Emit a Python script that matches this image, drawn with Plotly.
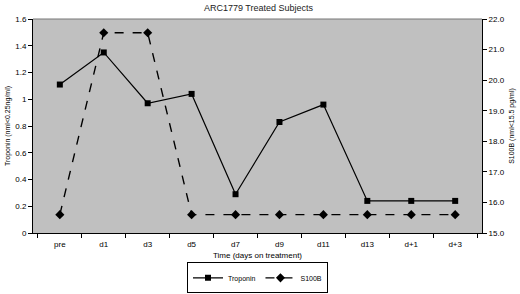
import plotly.graph_objects as go

days = ["pre", "d1", "d3", "d5", "d7", "d9", "d11", "d13", "d+1", "d+3"]
troponin = [1.11, 1.35, 0.97, 1.04, 0.29, 0.83, 0.96, 0.24, 0.24, 0.24]
s100b = [15.6, 21.55, 21.55, 15.6, 15.6, 15.6, 15.6, 15.6, 15.6, 15.6]

font = "Liberation Sans, Arial, sans-serif"

fig = go.Figure()
fig.add_trace(go.Scatter(
    x=days, y=troponin, name="Troponin", mode="lines+markers",
    line=dict(color="black", width=1.2),
    marker=dict(symbol="square", size=6, color="black"),
))
fig.add_trace(go.Scatter(
    x=days, y=s100b, name="S100B", mode="lines+markers", yaxis="y2",
    line=dict(color="black", width=1.4, dash="dash"),
    marker=dict(symbol="diamond", size=7, color="black"),
))

fig.update_layout(
    width=520, height=294,
    margin=dict(l=33, r=38, t=19, b=61, autoexpand=False),
    paper_bgcolor="white", plot_bgcolor="#c0c0c0",
    font=dict(family=font, size=8, color="black"),
    title=dict(text="ARC1779 Treated Subjects", x=0.497, xanchor="center",
               y=0.985, yanchor="top", font=dict(size=9, color="#222")),
    showlegend=True,
    legend=dict(orientation="h", x=0.5, xanchor="center", y=-0.282, yanchor="bottom",
                bordercolor="black", borderwidth=1, bgcolor="white",
                font=dict(size=7), itemwidth=30, tracegroupgap=0),
    xaxis=dict(
        type="category", tickson="boundaries", ticks="outside", ticklen=4,
        tickcolor="black", showline=True, linecolor="black", linewidth=1,
        showgrid=False, zeroline=False, automargin=False, ticklabelstandoff=3,
        title=dict(text="Time (days on treatment)", font=dict(size=8), standoff=4),
        tickfont=dict(size=8),
    ),
    yaxis=dict(
        range=[0, 1.6], dtick=0.2, ticks="outside", ticklen=4, tickcolor="black",
        showline=True, linecolor="black", linewidth=1, showgrid=False, zeroline=False,
        automargin=False, tickfont=dict(size=8),
        title=dict(text="Troponin (nml&lt;0.25ng/ml)", font=dict(size=7), standoff=3),
    ),
    yaxis2=dict(
        range=[15, 22], dtick=1, tickformat=".1f", overlaying="y", side="right",
        ticks="outside", ticklen=4, tickcolor="black", automargin=False,
        showline=True, linecolor="black", linewidth=1, showgrid=False, zeroline=False,
        tickfont=dict(size=8),
        title=dict(text="S100B (nml&lt;15.5 pg/ml)", font=dict(size=7), standoff=5),
    ),
)
fig.add_shape(type="line", xref="paper", yref="paper", x0=0, x1=1, y0=1, y1=1,
              line=dict(color="#777", width=1))

fig.write_html("out.html", config={"displayModeBar": False},
               post_script="document.body.style.margin='0';document.body.style.overflow='hidden';")
